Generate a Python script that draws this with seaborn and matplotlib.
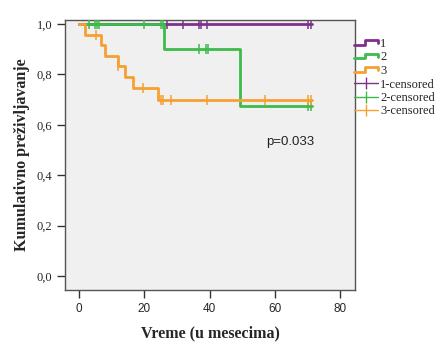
import matplotlib
matplotlib.use("Agg")
import matplotlib.pyplot as plt
import seaborn as sns
import pandas as pd
from matplotlib.lines import Line2D
from matplotlib.legend_handler import HandlerLine2D

# ---- data ----
group_labels = ["1", "2", "3"]
censor_labels = ["1-censored", "2-censored", "3-censored"]

g1_time = [0, 71.3]
g1_surv = [1.0, 1.0]
g2_time = [0, 26.1, 49.3, 71.5]
g2_surv = [1.0, 0.90, 0.675, 0.675]
g3_time = [0, 1.8, 6.8, 8.0, 11.8, 14.1, 16.4, 24.3, 71.5]
g3_surv = [1.0, 0.958, 0.917, 0.875, 0.833, 0.79, 0.745, 0.70, 0.70]

g1_cens_t = [26.9, 32.0, 36.9, 37.4, 39.1, 70.2, 71.0]
g1_cens_s = [1.0, 1.0, 1.0, 1.0, 1.0, 1.0, 1.0]
g2_cens_t = [3.2, 4.9, 5.6, 6.2, 19.9, 25.1, 25.6, 36.9, 38.9, 39.6, 70.2, 71.0]
g2_cens_s = [1.0, 1.0, 1.0, 1.0, 1.0, 1.0, 1.0, 0.90, 0.90, 0.90, 0.675, 0.675]
g3_cens_t = [5.1, 11.8, 19.7, 25.1, 25.8, 28.1, 39.1, 57.0, 70.2, 71.0]
g3_cens_s = [0.958, 0.833, 0.745, 0.70, 0.70, 0.70, 0.70, 0.70, 0.70, 0.70]

x_ticks = [0, 20, 40, 60, 80]
y_ticks = [0.0, 0.2, 0.4, 0.6, 0.8, 1.0]
y_tick_labels = ["0,0", "0,2", "0,4", "0,6", "0,8", "1,0"]
p_text = "p=0.033"

colors = ["#7e2f8e", "#3dbb4b", "#f7a032"]

sns.set_style("white")
plt.rcParams["font.family"] = ["Liberation Serif", "DejaVu Serif"]

fig = plt.figure(figsize=(4.4, 3.47), dpi=100)
ax = fig.add_axes([65 / 440, 1 - 290 / 347, 290 / 440, 270 / 347])
ax.set_facecolor("#f0f0f0")

curves = [(g1_time, g1_surv), (g2_time, g2_surv), (g3_time, g3_surv)]
cens = [(g1_cens_t, g1_cens_s), (g2_cens_t, g2_cens_s), (g3_cens_t, g3_cens_s)]

for i, ((t, s), (ct, cs)) in enumerate(zip(curves, cens)):
    df = pd.DataFrame({"t": t, "s": s})
    sns.lineplot(data=df, x="t", y="s", ax=ax, color=colors[i], lw=2.0,
                 drawstyle="steps-post", estimator=None, sort=False,
                 zorder=2 + i)
    dfc = pd.DataFrame({"t": ct, "s": cs})
    sns.scatterplot(data=dfc, x="t", y="s", ax=ax, color=colors[i], marker="|",
                    s=60, linewidth=1.1, zorder=2.5 + i)

ax.set_xlim(-4.3, 84.6)
ax.set_ylim(-0.056, 1.016)
ax.set_xticks(x_ticks)
ax.set_xticklabels([str(v) for v in x_ticks], family="Liberation Sans", fontsize=8.5)
ax.set_yticks(y_ticks)
ax.set_yticklabels(y_tick_labels, fontsize=9)
ax.tick_params(axis="both", direction="out", length=6, width=1, color="#333333",
               left=True, bottom=True, pad=3)
for sp in ax.spines.values():
    sp.set_color("#555555")
    sp.set_linewidth(1.0)

ax.set_xlabel("Vreme (u mesecima)", fontsize=11.5, fontweight="bold", labelpad=8)
ax.set_ylabel("Kumulativno preživljavanje", fontsize=11.5, fontweight="bold", labelpad=5)

ax.text(64.7, 0.532, p_text, family="Liberation Sans", fontsize=9.5,
        ha="center", va="center", color="#222222")


class StepHandler(HandlerLine2D):
    def create_artists(self, legend, orig_handle, xdescent, ydescent,
                       width, height, fontsize, trans):
        x0 = -xdescent
        y0 = -ydescent
        xs = [x0, x0 + width * 0.45, x0 + width * 0.45, x0 + width, x0 + width]
        ys = [y0 + height * 0.25, y0 + height * 0.25, y0 + height * 0.75,
              y0 + height * 0.75, y0 + height * 0.45]
        line = Line2D(xs, ys, color=orig_handle.get_color(), lw=2.0)
        line.set_transform(trans)
        return [line]


step_handles = [Line2D([], [], color=c, lw=2) for c in colors]
cens_handles = [Line2D([], [], color=c, lw=1.0, marker="|", markersize=9,
                       markeredgewidth=1.0) for c in colors]
handler_map = {h: StepHandler() for h in step_handles}
fig.legend(step_handles + cens_handles, group_labels + censor_labels,
           handler_map=handler_map, loc="upper left",
           bbox_to_anchor=(354 / 440, 1 - 38 / 347), frameon=False,
           fontsize=9, handlelength=1.9, handletextpad=0.2,
           labelspacing=0.12, borderaxespad=0, borderpad=0)

fig.savefig("out.png", dpi=100, facecolor="white")
